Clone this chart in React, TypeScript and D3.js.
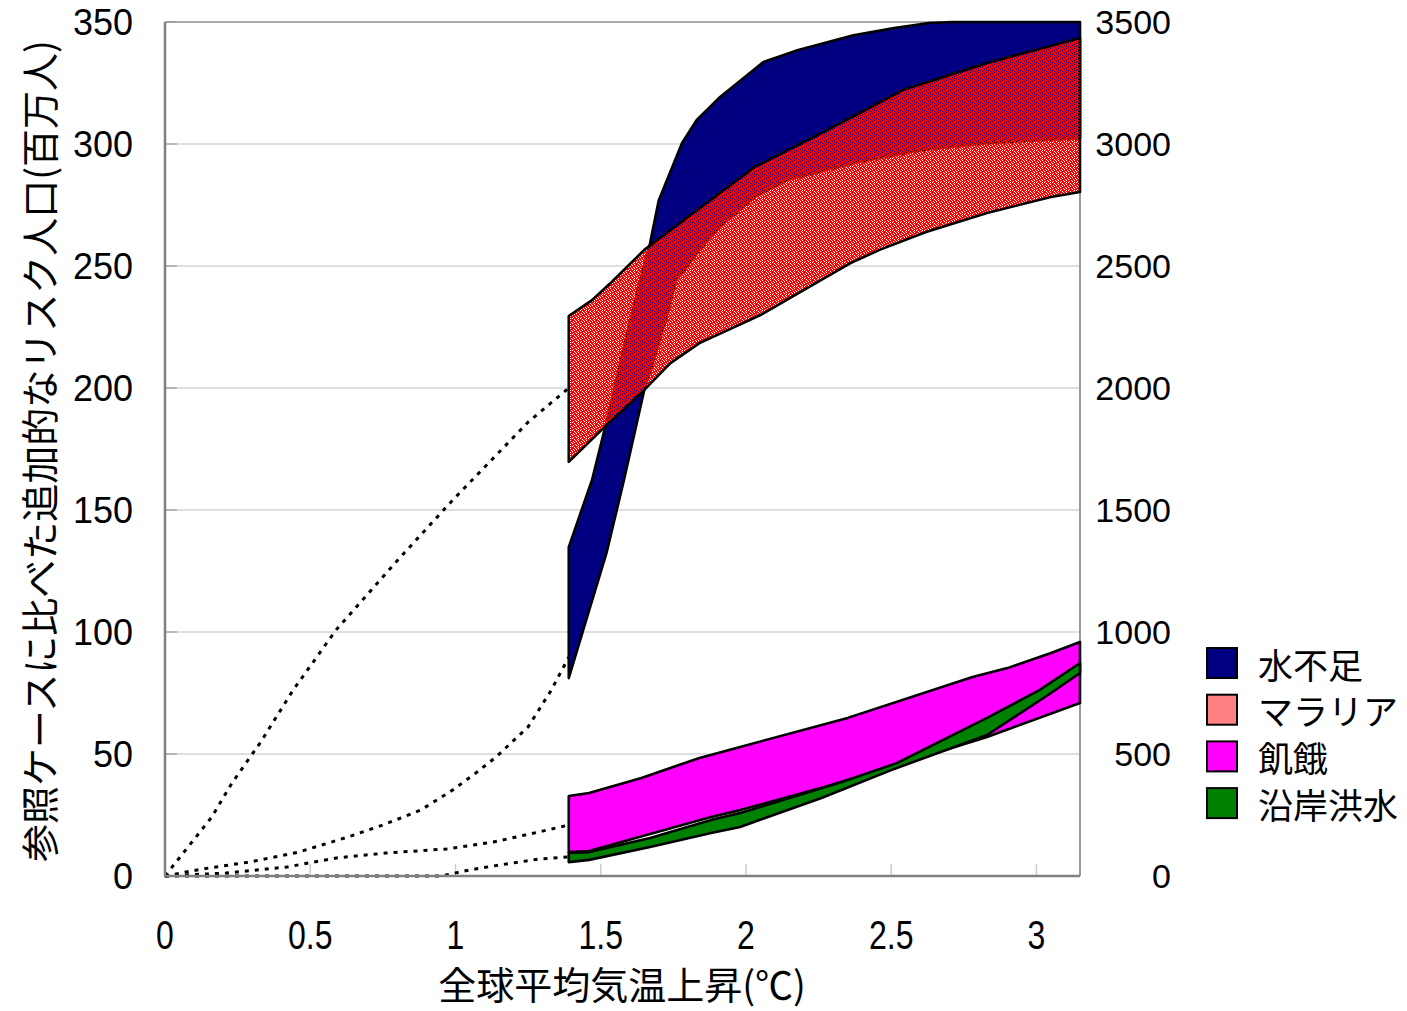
import React from "react";
import * as d3 from "d3";

// ---------- data ----------
const xTicks = [0, 0.5, 1, 1.5, 2, 2.5, 3];
const yLeftTicks = [0, 50, 100, 150, 200, 250, 300, 350];
const yRightTicks = [0, 500, 1000, 1500, 2000, 2500, 3000, 3500];

// water shortage (right axis, millions)
const waterUpper: [number, number][] = [
  [1.39, 1348], [1.47, 1623], [1.53, 1910], [1.58, 2168], [1.63, 2414], [1.67, 2594],
  [1.70, 2770], [1.78, 3004], [1.83, 3098], [1.91, 3192], [2.06, 3336], [2.18, 3385],
  [2.37, 3446], [2.51, 3475], [2.63, 3496], [2.71, 3500], [3.15, 3500],
];
const waterLower: [number, number][] = [
  [1.39, 811], [1.45, 1049], [1.52, 1324], [1.58, 1623], [1.65, 1992], [1.69, 2143],
  [1.73, 2307], [1.76, 2442], [1.84, 2565], [1.91, 2660], [2.03, 2783], [2.14, 2852],
  [2.37, 2922], [2.60, 2975], [2.83, 3004], [3.15, 3024],
];
// malaria (left axis)
const malariaUpper: [number, number][] = [
  [1.39, 229.5], [1.47, 236], [1.53, 242.6], [1.65, 256.6], [1.80, 270.1], [2.03, 290.6],
  [2.26, 304.5], [2.54, 322.1], [2.83, 333.2], [3.15, 343.4],
];
const malariaLower: [number, number][] = [
  [1.39, 169.7], [1.52, 184.8], [1.65, 199.2], [1.74, 210.2], [1.84, 218.4], [2.05, 229.9],
  [2.20, 240.2], [2.36, 251.2], [2.46, 256.6], [2.62, 263.9], [2.83, 271.7], [3.05, 278.3],
  [3.15, 280.3],
];
// hunger (left axis)
const hungerUpper: [number, number][] = [
  [1.39, 32.8], [1.46, 34.0], [1.64, 40.2], [1.84, 48.4], [1.98, 52.9], [2.35, 64.8],
  [2.78, 81.6], [2.90, 85.2], [3.05, 91.4], [3.15, 95.9],
];
const hungerLower: [number, number][] = [
  [1.39, 9.8], [1.46, 10.2], [1.67, 17.2], [1.88, 24.2], [1.98, 27.0], [2.27, 36.5],
  [2.52, 45.5], [2.83, 57.0], [3.15, 70.9],
];
// coastal flooding (left axis)
const coastUpper: [number, number][] = [
  [1.39, 9.4], [1.46, 9.8], [1.67, 15.6], [1.88, 23.0], [1.98, 25.8], [2.33, 38.5],
  [2.52, 46.3], [2.83, 64.8], [3.01, 76.2], [3.15, 87.3],
];
const coastLower: [number, number][] = [
  [1.39, 5.7], [1.46, 6.6], [1.67, 11.9], [1.88, 17.6], [1.98, 20.1], [2.26, 32.0],
  [2.50, 43.4], [2.83, 57.8], [3.04, 74.2], [3.15, 83.2],
];
// dotted extensions from 0 °C
const malariaExt: [number, number][] = [
  [0, 0], [0.08, 12], [0.16, 24], [0.23, 38], [0.33, 55], [0.44, 76], [0.59, 101],
  [0.79, 128], [0.99, 154], [1.25, 186], [1.39, 200],
];
const waterExt: [number, number][] = [
  [0, 0], [0.13, 29], [0.29, 57], [0.46, 98], [0.63, 160], [0.75, 209], [0.88, 270],
  [0.99, 352], [1.07, 422], [1.14, 488], [1.25, 611], [1.33, 762], [1.39, 897],
];
const hungerExt: [number, number][] = [
  [0, 0], [0.21, 1.2], [0.42, 3.7], [0.59, 7.4], [0.76, 9.4], [0.97, 11.1], [1.13, 13.9],
  [1.30, 18.4], [1.39, 20.9],
];
const coastExt: [number, number][] = [
  [0, 0], [0.95, 0], [1.05, 2.5], [1.13, 4.1], [1.29, 7.0], [1.39, 7.8],
];

const legendNames = ["水不足", "マラリア", "飢餓", "沿岸洪水"];
const legendColors = ["#000080", "#FF8080", "#FF00FF", "#008000"];

const yTitle = "参照ケースに比べた追加的なリスク人口(百万人)";
const xTitle = "全球平均気温上昇(℃)";

// ---------- layout ----------
const W = 1407;
const H = 1011;
const L = 165, R = 1080, T = 22, B = 876;

const x = d3.scaleLinear().domain([0, 3.15]).range([L, R]);
const yL = d3.scaleLinear().domain([0, 350]).range([B, T]);
const yR = d3.scaleLinear().domain([0, 3500]).range([B, T]);

const lineGen = d3.line<[number, number]>().x((d) => d[0]).y((d) => d[1]);

function band(upper: [number, number][], lower: [number, number][], ys: d3.ScaleLinear<number, number>) {
  const pts: [number, number][] = [
    ...upper.map((p) => [x(p[0]), ys(p[1])] as [number, number]),
    ...lower.slice().reverse().map((p) => [x(p[0]), ys(p[1])] as [number, number]),
  ];
  return lineGen(pts) + "Z";
}
function path(data: [number, number][], ys: d3.ScaleLinear<number, number>) {
  return lineGen(data.map((p) => [x(p[0]), ys(p[1])] as [number, number])) as string;
}

const patternRows = [
  "11011110",
  "01111011",
  "11101101",
  "10110111",
  "11011110",
  "01111011",
  "11010111",
  "10111101",
];

const jp = "'Noto Sans CJK JP', 'Noto Sans CJK SC', sans-serif";
const num = "'Liberation Sans', Arial, sans-serif";

export default function App() {
  const cells: JSX.Element[] = [];
  patternRows.forEach((row, r) =>
    row.split("").forEach((c, ci) => {
      if (c === "1")
        cells.push(
          <rect key={`${r}-${ci}`} x={ci} y={r} width={1} height={1} fill="#FF0000" shapeRendering="crispEdges" />
        );
    })
  );
  const outline = { stroke: "#000", strokeWidth: 2.6, strokeLinejoin: "round" as const };
  const dotted = { fill: "none", stroke: "#000", strokeWidth: 3, strokeDasharray: "4,6" };

  return (
    <div style={{ position: "absolute", left: 0, top: 0 }}>
      <svg width={W} height={H} style={{ display: "block", background: "#fff" }}>
        <defs>
          <pattern id="malaria" patternUnits="userSpaceOnUse" width={8} height={8}>
            {cells}
          </pattern>
          <clipPath id="plot">
            <rect x={L} y={T - 2} width={R - L + 2} height={B - T + 4} />
          </clipPath>
        </defs>

        {/* grid */}
        {yLeftTicks.map((t) => (
          <line key={t} x1={L} x2={R} y1={yL(t)} y2={yL(t)} stroke="#d4d4d4" strokeWidth={1.5} />
        ))}
        {yLeftTicks.map((t) => (
          <line key={"lt" + t} x1={L} x2={L + 12} y1={yL(t)} y2={yL(t)} stroke="#aaa" strokeWidth={1.5} />
        ))}
        {xTicks.map((t) => (
          <line key={"xt" + t} x1={x(t)} x2={x(t)} y1={B} y2={B - 12} stroke="#ccc" strokeWidth={1.5} />
        ))}
        <line x1={L} x2={R} y1={T} y2={T} stroke="#999" strokeWidth={1.5} />
        <line x1={R} x2={R} y1={T} y2={B} stroke="#999" strokeWidth={2} />

        {/* dotted extensions */}
        <path d={path(malariaExt, yL)} {...dotted} />
        <path d={path(waterExt, yR)} {...dotted} />
        <path d={path(hungerExt, yL)} {...dotted} />
        <path d={path(coastExt, yL)} {...dotted} />

        <g clipPath="url(#plot)">
          <path d={band(waterUpper, waterLower, yR)} fill="#000080" {...outline} />
          <path d={band(malariaUpper, malariaLower, yL)} fill="url(#malaria)" {...outline} />
          <path d={band(hungerUpper, hungerLower, yL)} fill="#FF00FF" {...outline} />
          <path d={band(coastUpper, coastLower, yL)} fill="#008000" {...outline} />
        </g>

        {/* axes lines */}
        <line x1={L} x2={L} y1={T} y2={B + 1} stroke="#808080" strokeWidth={2.5} />
        <line x1={L - 1} x2={R} y1={B} y2={B} stroke="#808080" strokeWidth={2.5} />

        {/* left tick labels */}
        {yLeftTicks.map((t) => (
          <text key={"yl" + t} x={133} y={yL(t)} textAnchor="end" dominantBaseline="central"
            fontFamily={num} fontSize={36}>{t}</text>
        ))}
        {/* right tick labels */}
        {yRightTicks.map((t) => (
          <text key={"yr" + t} x={1171} y={yR(t)} textAnchor="end" dominantBaseline="central"
            fontFamily={num} fontSize={34}>{t}</text>
        ))}
        {/* x tick labels (condensed) */}
        {xTicks.map((t) => (
          <text key={"xl" + t} transform={`translate(${x(t)}, 935) scale(0.8, 1)`} textAnchor="middle"
            dominantBaseline="central" fontFamily={num} fontSize={40}>{t}</text>
        ))}

        {/* titles */}
        <text x={622} y={999} textAnchor="middle" fontFamily={jp} fontSize={38}>
          {xTitle}
        </text>
        <text x={37} y={451} textAnchor="middle" dominantBaseline="central" fontFamily={jp} fontSize={38}
          transform="rotate(-90, 37, 451)">
          {yTitle}
        </text>

        {/* legend */}
        {legendNames.map((n, i) => (
          <g key={n} transform={`translate(1207, ${648 + i * 46.7})`}>
            <rect x={0} y={0} width={30} height={30} fill={legendColors[i]} stroke="#000" strokeWidth={2} />
            <text x={51} y={15} dominantBaseline="central" fontFamily={jp} fontSize={35}>{n}</text>
          </g>
        ))}
      </svg>
    </div>
  );
}
